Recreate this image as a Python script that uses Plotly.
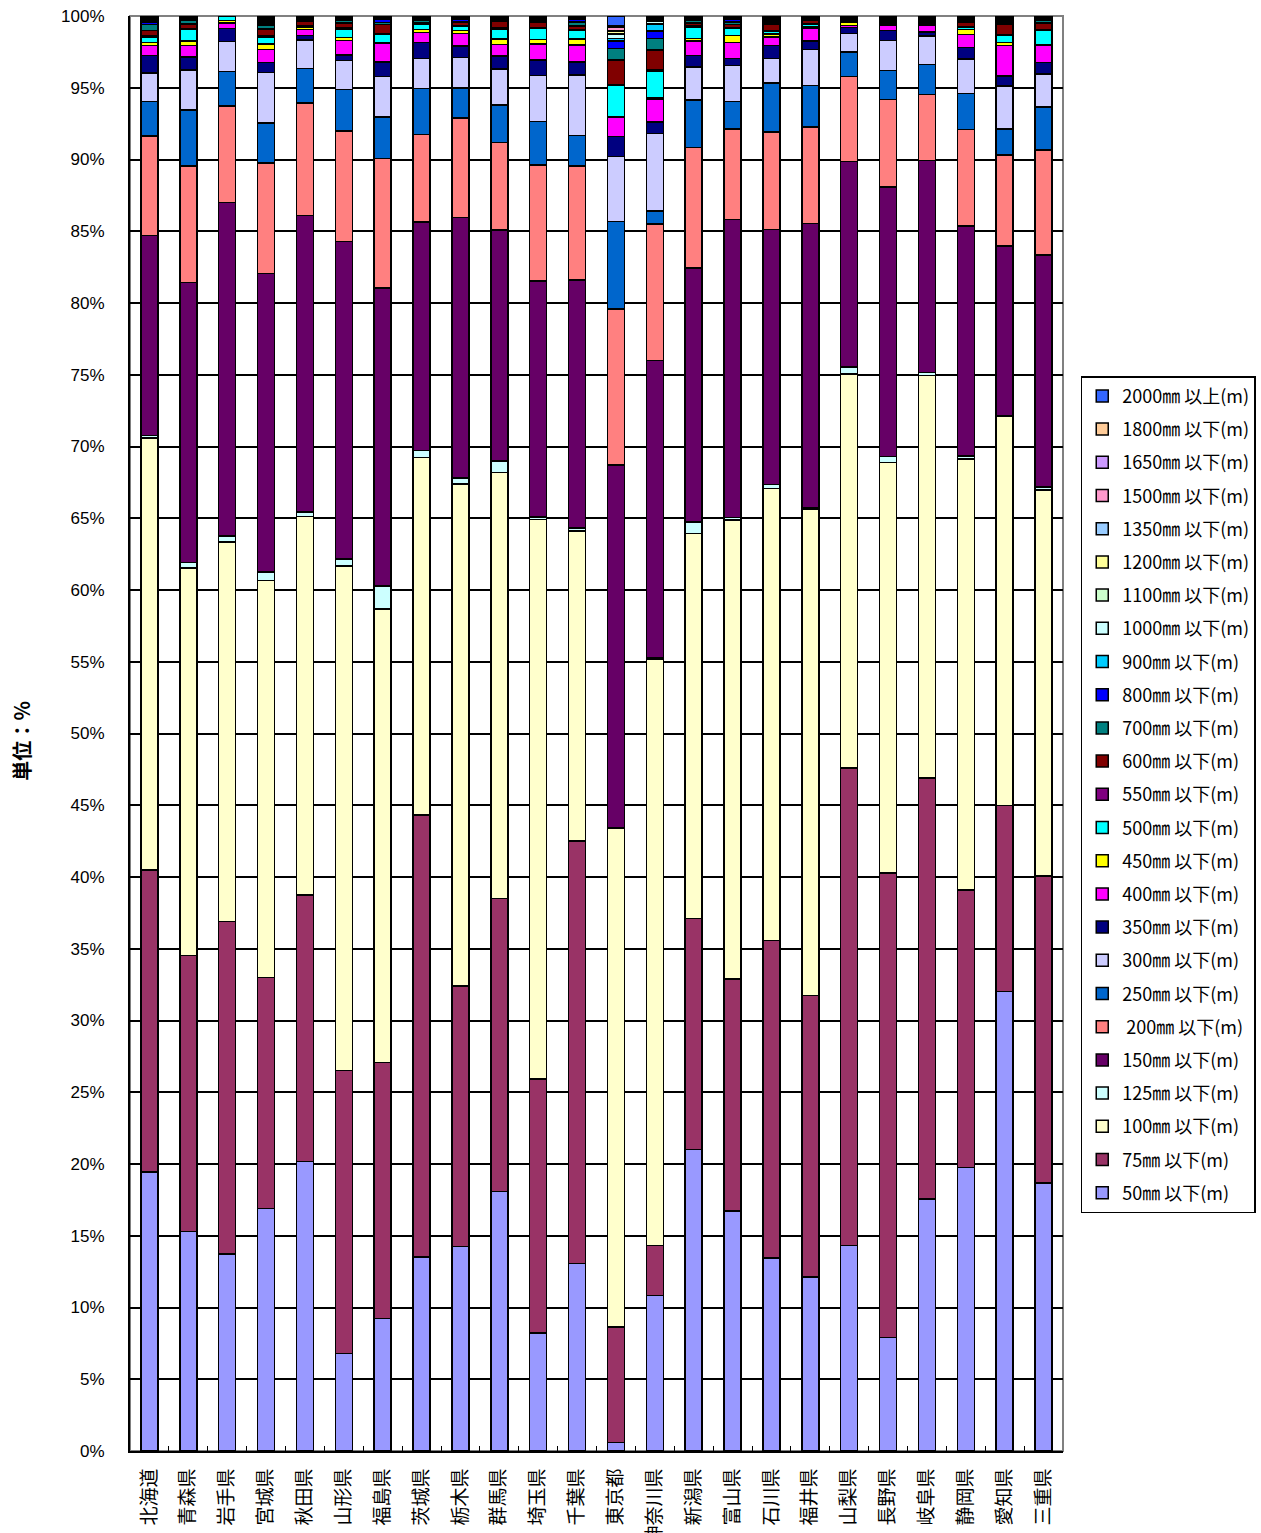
import plotly.graph_objects as go

prefectures = ["北海道", "青森県", "岩手県", "宮城県", "秋田県", "山形県", "福島県", "茨城県",
               "栃木県", "群馬県", "埼玉県", "千葉県", "東京都", "神奈川県", "新潟県", "富山県",
               "石川県", "福井県", "山梨県", "長野県", "岐阜県", "静岡県", "愛知県", "三重県"]

series_names = ["50㎜ 以下(m)", "75㎜ 以下(m)", "100㎜ 以下(m)", "125㎜ 以下(m)", "150㎜ 以下(m)",
                " 200㎜ 以下(m)", "250㎜ 以下(m)", "300㎜ 以下(m)", "350㎜ 以下(m)", "400㎜ 以下(m)",
                "450㎜ 以下(m)", "500㎜ 以下(m)", "550㎜ 以下(m)", "600㎜ 以下(m)", "700㎜ 以下(m)",
                "800㎜ 以下(m)", "900㎜ 以下(m)", "1000㎜ 以下(m)", "1100㎜ 以下(m)", "1200㎜ 以下(m)",
                "1350㎜ 以下(m)", "1500㎜ 以下(m)", "1650㎜ 以下(m)", "1800㎜ 以下(m)", "2000㎜ 以上(m)"]

y_ticks = [0, 5, 10, 15, 20, 25, 30, 35, 40, 45, 50, 55, 60, 65, 70, 75, 80, 85, 90, 95, 100]
y_tick_labels = ["0%", "5%", "10%", "15%", "20%", "25%", "30%", "35%", "40%", "45%", "50%",
                 "55%", "60%", "65%", "70%", "75%", "80%", "85%", "90%", "95%", "100%"]

s50 = [19.4, 15.3, 13.7, 16.9, 20.1, 6.8, 9.2, 13.5, 14.2, 18.1, 8.2, 13.0, 0.6, 10.8, 21.0, 16.7, 13.4, 12.1, 14.3, 7.9, 17.6, 19.7, 31.9, 18.7]
s75 = [21.0, 19.2, 23.1, 16.1, 18.5, 19.7, 17.8, 30.8, 18.1, 20.4, 17.7, 29.3, 8.0, 3.5, 16.1, 16.1, 22.1, 19.6, 33.2, 32.4, 29.4, 19.3, 12.9, 21.4]
s100 = [30.0, 27.0, 26.4, 27.7, 26.3, 35.1, 31.5, 24.9, 34.9, 29.7, 38.9, 21.5, 34.6, 40.8, 26.8, 31.9, 31.4, 33.8, 27.4, 28.6, 28.1, 30.0, 27.0, 26.9]
s125 = [0.2, 0.4, 0.4, 0.6, 0.3, 0.5, 1.6, 0.5, 0.4, 0.8, 0.2, 0.2, 0.05, 0.05, 0.8, 0.2, 0.3, 0.1, 0.5, 0.4, 0.2, 0.2, 0.05, 0.2]
s150 = [13.9, 19.5, 23.2, 20.8, 20.6, 22.1, 20.7, 15.9, 18.1, 16.1, 16.4, 17.2, 25.2, 20.7, 17.7, 20.7, 17.7, 19.8, 14.3, 18.8, 14.8, 16.0, 11.8, 16.2]
s200 = [6.9, 8.1, 6.7, 7.7, 7.8, 7.7, 9.0, 6.1, 6.9, 6.1, 8.1, 7.9, 10.8, 9.5, 8.4, 6.3, 6.8, 6.7, 5.9, 6.1, 4.6, 6.7, 6.3, 7.3]
s250 = [2.4, 3.9, 2.4, 2.8, 2.4, 2.9, 2.9, 3.2, 2.1, 2.6, 3.0, 2.1, 6.1, 0.9, 3.3, 1.9, 3.4, 2.9, 1.7, 2.0, 2.1, 2.5, 1.8, 3.0]
s300 = [2.0, 2.8, 2.1, 3.5, 2.0, 2.0, 2.8, 2.1, 2.1, 2.5, 3.2, 4.2, 4.5, 5.4, 2.3, 2.5, 1.7, 2.5, 1.3, 2.1, 2.0, 2.4, 3.0, 2.3]
s350 = [1.2, 0.9, 0.9, 0.7, 0.3, 0.4, 1.0, 1.1, 0.8, 0.9, 1.1, 0.9, 1.4, 0.8, 0.8, 0.5, 0.9, 0.6, 0.4, 0.7, 0.25, 0.8, 0.7, 0.8]
s400 = [0.7, 0.8, 0.4, 0.9, 0.4, 1.0, 1.3, 0.7, 0.9, 0.8, 1.1, 1.2, 1.3, 1.6, 1.0, 1.1, 0.6, 0.9, 0.15, 0.4, 0.5, 0.9, 2.1, 1.2]
s450 = [0.2, 0.3, 0.15, 0.4, 0.2, 0.2, 0.05, 0.2, 0.2, 0.4, 0.3, 0.4, 0.05, 0.05, 0.2, 0.5, 0.2, 0.05, 0.2, 0.05, 0.05, 0.35, 0.2, 0.05]
s500 = [0.4, 0.8, 0.3, 0.5, 0.05, 0.6, 0.6, 0.4, 0.3, 0.7, 0.8, 0.6, 2.2, 1.9, 0.8, 0.5, 0.2, 0.2, 0.05, 0.15, 0.05, 0.15, 0.5, 1.0]
s550 = [0.1, 0.05, 0.02, 0.05, 0.05, 0.05, 0.05, 0.05, 0.05, 0.05, 0.05, 0.05, 0.05, 0.05, 0.05, 0.05, 0.05, 0.05, 0.03, 0.03, 0.03, 0.05, 0.05, 0.05]
s600 = [0.35, 0.35, 0.0, 0.5, 0.3, 0.35, 0.6, 0.05, 0.2, 0.5, 0.4, 0.25, 1.7, 1.4, 0.2, 0.2, 0.45, 0.2, 0.05, 0.05, 0.05, 0.35, 0.7, 0.45]
s700 = [0.4, 0.25, 0.0, 0.25, 0.05, 0.2, 0.15, 0.15, 0.05, 0.05, 0.1, 0.3, 0.8, 0.8, 0.2, 0.2, 0.1, 0.05, 0.05, 0.05, 0.05, 0.1, 0.05, 0.2]
s800 = [0.15, 0.05, 0.0, 0.1, 0.05, 0.05, 0.2, 0.05, 0.15, 0.05, 0.05, 0.15, 0.5, 0.5, 0.05, 0.15, 0.05, 0.05, 0.05, 0.05, 0.05, 0.05, 0.05, 0.05]
s900 = [0.1, 0.05, 0.0, 0.1, 0.05, 0.05, 0.05, 0.05, 0.05, 0.05, 0.05, 0.05, 0.2, 0.5, 0.05, 0.05, 0.05, 0.05, 0.05, 0.05, 0.05, 0.05, 0.15, 0.05]
s1000 = [0.1, 0.05, 0.0, 0.1, 0.05, 0.05, 0.05, 0.05, 0.05, 0.05, 0.05, 0.05, 0.25, 0.2, 0.05, 0.05, 0.05, 0.03, 0.03, 0.03, 0.05, 0.05, 0.05, 0.05]
s1100 = [0.05, 0.03, 0.0, 0.15, 0.03, 0.03, 0.03, 0.03, 0.03, 0.03, 0.03, 0.03, 0.05, 0.05, 0.03, 0.03, 0.05, 0.03, 0.03, 0.03, 0.05, 0.03, 0.05, 0.03]
s1200 = [0.05, 0.03, 0.0, 0.05, 0.03, 0.03, 0.03, 0.03, 0.03, 0.03, 0.03, 0.03, 0.2, 0.05, 0.03, 0.03, 0.05, 0.03, 0.03, 0.03, 0.05, 0.03, 0.05, 0.03]
s1350 = [0.03, 0.02, 0.0, 0.03, 0.02, 0.02, 0.02, 0.02, 0.02, 0.02, 0.02, 0.02, 0.05, 0.05, 0.02, 0.02, 0.03, 0.02, 0.02, 0.02, 0.03, 0.02, 0.03, 0.02]
s1500 = [0.03, 0.02, 0.0, 0.03, 0.02, 0.02, 0.02, 0.02, 0.02, 0.02, 0.02, 0.02, 0.2, 0.05, 0.02, 0.02, 0.03, 0.02, 0.02, 0.02, 0.03, 0.02, 0.03, 0.02]
s1650 = [0.02, 0.01, 0.0, 0.02, 0.01, 0.01, 0.01, 0.01, 0.01, 0.01, 0.01, 0.01, 0.05, 0.03, 0.01, 0.01, 0.02, 0.01, 0.01, 0.01, 0.02, 0.01, 0.02, 0.01]
s1800 = [0.02, 0.01, 0.0, 0.02, 0.01, 0.01, 0.01, 0.01, 0.01, 0.01, 0.01, 0.01, 0.05, 0.03, 0.01, 0.01, 0.02, 0.01, 0.01, 0.01, 0.02, 0.01, 0.02, 0.01]
s2000 = [0.05, 0.03, 0.0, 0.05, 0.03, 0.03, 0.03, 0.03, 0.03, 0.03, 0.03, 0.03, 0.7, 0.1, 0.03, 0.03, 0.1, 0.03, 0.03, 0.03, 0.05, 0.03, 0.1, 0.03]

series_values = [s50, s75, s100, s125, s150, s200, s250, s300, s350, s400, s450, s500, s550,
                 s600, s700, s800, s900, s1000, s1100, s1200, s1350, s1500, s1650, s1800, s2000]

colors = ["#9999FF", "#993366", "#FFFFCC", "#CCFFFF", "#660066", "#FF8080", "#0066CC", "#CCCCFF",
          "#000080", "#FF00FF", "#FFFF00", "#00FFFF", "#800080", "#800000", "#008080", "#0000FF",
          "#00CCFF", "#CCFFFF", "#CCFFCC", "#FFFF99", "#99CCFF", "#FF99CC", "#CC99FF", "#FFCC99",
          "#3366FF"]

FONT = "Noto Sans CJK JP"

fig = go.Figure()
n = len(series_names)
for i, (name, vals, col) in enumerate(zip(series_names, series_values, colors)):
    fig.add_trace(go.Bar(
        x=prefectures, y=vals, name=name, legendgroup="g%02d" % i, legendrank=n - i,
        marker=dict(color=col, line=dict(color="black", width=1.5)),
    ))

fig.update_layout(
    width=1261, height=1533,
    barmode="stack", barnorm="percent", bargap=0.56,
    plot_bgcolor="white", paper_bgcolor="white",
    margin=dict(l=130, r=198, t=16, b=82, autoexpand=False),
    font=dict(family=FONT, color="black"),
    legend=dict(
        traceorder="grouped", tracegroupgap=6.8,
        x=1.019, xanchor="left", y=0.749, yanchor="top",
        bordercolor="black", borderwidth=1.5, bgcolor="white",
        font=dict(family=FONT, size=18, color="black"),
    ),
    xaxis=dict(
        type="category", range=[-0.5, 23.5], tickangle=-90,
        tickfont=dict(family=FONT, size=19, color="black"),
        showline=True, linecolor="black", linewidth=2,
        ticks="inside", tickson="boundaries", ticklen=5, tickcolor="black",
        ticklabelstandoff=8, showgrid=False,
    ),
    yaxis=dict(
        range=[0, 100], tickvals=y_ticks, ticktext=y_tick_labels,
        tickfont=dict(family="Liberation Sans", size=17, color="black"),
        showline=True, linecolor="black", linewidth=2,
        showgrid=True, gridcolor="black", gridwidth=1.5,
        ticks="", ticklabelstandoff=20, zeroline=False, ticklabeloverflow="allow",
    ),
    annotations=[dict(
        text="<b>単位：％</b>", x=-0.1158, y=0.495, xref="paper", yref="paper",
        xanchor="center", yanchor="middle",
        textangle=-90, showarrow=False, font=dict(family=FONT, size=20, color="black"),
    )],
    shapes=[dict(type="rect", xref="paper", yref="paper", x0=0, x1=1, y0=0, y1=1,
                 line=dict(color="#808080", width=2), layer="below")],
)

fig.write_html("out.html", config={"displayModeBar": False},
               post_script="document.body.style.margin='0px';")
